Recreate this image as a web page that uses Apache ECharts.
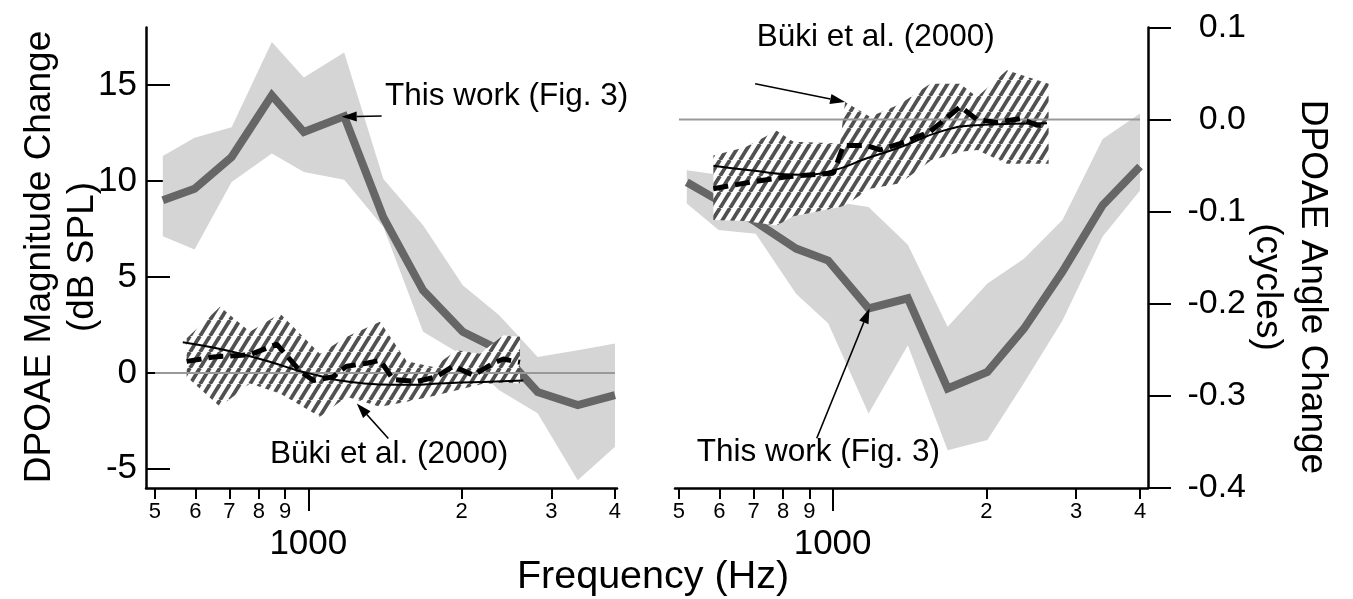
<!DOCTYPE html>
<html><head><meta charset="utf-8">
<script src="https://cdn.jsdelivr.net/npm/echarts@6/dist/echarts.min.js"></script>
<style>html,body{margin:0;padding:0;background:#fff}#c{width:1353px;height:599px}</style>
</head><body><div id="c"></div>
<script>
// ---------- DATA ----------
// "This work (Fig. 3)" frequencies (Hz)
const freqThisWork = [518, 598, 707, 848, 980, 1176, 1404, 1680, 2010, 2370, 2820, 3380, 4000];
// Magnitude change (dB SPL)
const magThisWork      = [9.0, 9.6, 11.25, 14.46, 12.55, 13.37, 8.1, 4.3, 2.14, 1.2, -1.0, -1.68, -1.16];
const magThisWorkUpper = [11.3, 12.26, 12.8, 17.24, 15.4, 16.7, 10.1, 7.7, 4.57, 3.0, 0.83, 1.18, 1.53];
const magThisWorkLower = [7.12, 6.43, 9.95, 11.43, 10.47, 10.07, 7.6, 2.14, 0.9, -0.9, -2.1, -5.6, -3.85];
// Angle change (cycles)
const angThisWork      = [-0.068, -0.088, -0.111, -0.140, -0.153, -0.205, -0.194, -0.292, -0.274, -0.227, -0.165, -0.093, -0.051];
const angThisWorkUpper = [-0.055, -0.060, -0.070, -0.080, -0.088, -0.095, -0.136, -0.225, -0.178, -0.151, -0.109, -0.021, 0.0065];
const angThisWorkLower = [-0.091, -0.120, -0.124, -0.189, -0.221, -0.319, -0.245, -0.359, -0.348, -0.286, -0.218, -0.127, -0.077];

// Büki et al. (2000) magnitude
const bukiMagFreq = [577, 651, 768, 867, 963, 1023, 1119, 1189, 1302, 1383, 1468, 1632, 1786, 1926, 2109, 2307, 2414, 2604];
const bukiMag     = [0.6, 0.83, 0.95, 1.5, 0.1, -0.4, -0.2, 0.35, 0.5, 0.66, -0.35, -0.45, -0.2, 0.35, -0.12, 0.5, 0.72, 0.55];
const bukiMagFitFreq = [567, 650, 734, 840, 949, 1050, 1154, 1383, 1600, 1814, 2200, 2642];
const bukiMagFit     = [1.6, 1.32, 1.0, 0.58, 0.14, -0.15, -0.4, -0.6, -0.62, -0.55, -0.47, -0.4];
const bukiMagBandFreq = [577, 671, 768, 880, 1054, 1189, 1383, 1560, 1760, 1956, 2173, 2414, 2604];
const bukiMagUpper    = [1.8, 3.44, 2.14, 3.1, 1.0, 1.88, 2.66, 0.6, 0.31, 1.18, 1.0, 1.96, 1.88];
const bukiMagLower    = [-0.2, -1.77, -0.55, -1.07, -2.29, -1.25, -1.77, -1.5, -1.2, -0.9, -0.6, -0.5, -0.55];

// Büki et al. (2000) angle
const bukiAngFreq = [584, 689, 813, 1004, 1050, 1167, 1239, 1356, 1553, 1778, 1918, 2099, 2331, 2514, 2630];
const bukiAng     = [-0.075, -0.068, -0.062, -0.058, -0.028, -0.028, -0.033, -0.026, -0.013, 0.014, 0.0, -0.003, 0.001, -0.006, -0.006];
const bukiAngFitFreq = [584, 689, 864, 1004, 1167, 1356, 1649, 1918, 2630];
const bukiAngFit     = [-0.05, -0.055, -0.060, -0.055, -0.042, -0.030, -0.012, -0.006, -0.004];
const bukiAngBandFreq = [584, 674, 777, 838, 1034, 1058, 1184, 1356, 1553, 1778, 1918, 2195, 2649];
const bukiAngUpper    = [-0.039, -0.030, -0.012, -0.024, -0.026, 0.019, 0.003, 0.017, 0.039, 0.039, 0.0245, 0.0535, 0.039];
const bukiAngLower    = [-0.109, -0.110, -0.115, -0.105, -0.095, -0.093, -0.075, -0.069, -0.045, -0.035, -0.033, -0.048, -0.048];

// zero reference lines
const zeroLineFreq = [500, 4000];
const zeroLineVal  = [0, 0];

// tick labels
const minorTicks      = [500, 600, 700, 800, 900, 2000, 3000, 4000];
const minorTickLabels = ['5', '6', '7', '8', '9', '2', '3', '4'];
const majorTicks      = [1000];
const majorTickLabels = ['1000'];
const magTicks = [-5, 0, 5, 10, 15];

// ---------- CHART ----------
const FONT = 'Liberation Sans, Arial, Helvetica, sans-serif';
const chart = echarts.init(document.getElementById('c'), null, {renderer: 'canvas'});

function zip(a, b) { return a.map((v, i) => [v, b[i]]); }
function hatchPattern() {
  const w = 10, h = 16;
  const c = document.createElement('canvas'); c.width = w; c.height = h;
  const g = c.getContext('2d');
  g.fillStyle = '#fff'; g.fillRect(0, 0, w, h);
  g.strokeStyle = '#505050'; g.lineWidth = 3.8;
  for (let k = -1; k <= 1; k++) { g.beginPath(); g.moveTo(k * w, h); g.lineTo(k * w + w, 0); g.stroke(); }
  return c;
}
const HATCH = {image: hatchPattern(), repeat: 'repeat'};

function lookup(vals, labels) {
  return v => { const i = vals.findIndex(t => Math.abs(t - v) < 1e-6 * t); return i >= 0 ? labels[i] : ''; };
}
function xAxes(grid, min, max) {
  return [
    {type: 'log', logBase: 10, gridIndex: grid, min, max, position: 'bottom',
     axisLine: {show: true, onZero: false, lineStyle: {color: '#000', width: 2.5}},
     axisTick: {show: true, customValues: minorTicks, length: 11, lineStyle: {color: '#000', width: 2}},
     axisLabel: {show: true, customValues: minorTicks, formatter: lookup(minorTicks, minorTickLabels),
                 fontSize: 22, fontFamily: FONT, color: '#000', margin: 13},
     splitLine: {show: false}, minorTick: {show: false}},
    {type: 'log', logBase: 10, gridIndex: grid, min, max, position: 'bottom',
     axisLine: {show: false, onZero: false},
     axisTick: {show: true, customValues: majorTicks, length: 23, lineStyle: {color: '#000', width: 2}},
     axisLabel: {show: true, customValues: majorTicks, formatter: lookup(majorTicks, majorTickLabels),
                 fontSize: 35, fontFamily: FONT, color: '#000', margin: 39},
     splitLine: {show: false}, minorTick: {show: false}}
  ];
}
function band(freq, up, lo, fill, xi, yi, z) {
  return {type: 'custom', xAxisIndex: xi, yAxisIndex: yi, z, silent: true, clip: false,
    data: [[freq[0], up[0]]],
    renderItem(params, api) {
      const pts = [];
      for (let i = 0; i < freq.length; i++) pts.push(api.coord([freq[i], up[i]]));
      for (let i = freq.length - 1; i >= 0; i--) pts.push(api.coord([freq[i], lo[i]]));
      return {type: 'polygon', shape: {points: pts}, style: {fill: fill, stroke: null, lineWidth: 0}};
    }};
}
function line(freq, vals, xi, yi, z, style, smooth) {
  return {type: 'line', xAxisIndex: xi, yAxisIndex: yi, z, silent: true, symbol: 'none', smooth: !!smooth,
    data: zip(freq, vals), lineStyle: style, animation: false};
}

const option = {
  animation: false,
  backgroundColor: '#fff',
  grid: [
    {left: 146, top: 27.5, width: 471, height: 460.5},
    {left: 675, top: 27.5, width: 473, height: 460.5}
  ],
  xAxis: [].concat(xAxes(0, 480.1, 4036.6), xAxes(1, 491.2, 4147)),
  yAxis: [
    {type: 'value', gridIndex: 0, min: -6, max: 18, position: 'left',
     axisLine: {show: true, onZero: false, lineStyle: {color: '#000', width: 2.5}},
     axisTick: {show: true, inside: true, customValues: magTicks, length: 24, lineStyle: {color: '#000', width: 2}},
     axisLabel: {show: true, customValues: magTicks, fontSize: 35, fontFamily: FONT, color: '#000', margin: 9},
     splitLine: {show: false}},
    {type: 'value', gridIndex: 1, min: -0.4, max: 0.1, interval: 0.1, position: 'right',
     axisLine: {show: true, onZero: false, lineStyle: {color: '#000', width: 2.5}},
     axisTick: {show: true, inside: false, length: 23, lineStyle: {color: '#000', width: 2}},
     axisLabel: {show: true, align: 'right', margin: 98, fontSize: 34, fontFamily: FONT, color: '#000',
                 formatter: v => (Math.abs(v) < 1e-9 ? 0 : v).toFixed(1)},
     splitLine: {show: false}}
  ],
  series: [
    // left panel
    band(freqThisWork, magThisWorkUpper, magThisWorkLower, '#d5d5d5', 0, 0, 1),
    line(freqThisWork, magThisWork, 0, 0, 2, {color: '#666', width: 8, join: 'miter'}),
    band(bukiMagBandFreq, bukiMagUpper, bukiMagLower, HATCH, 0, 0, 3),
    line(zeroLineFreq, zeroLineVal, 0, 0, 4, {color: '#999', width: 2}),
    line(bukiMagFreq, bukiMag, 0, 0, 5, {color: '#000', width: 5, type: [15, 7]}),
    line(bukiMagFitFreq, bukiMagFit, 0, 0, 6, {color: '#000', width: 2}, 0.4),
    // right panel
    band(freqThisWork, angThisWorkUpper, angThisWorkLower, '#d5d5d5', 2, 1, 1),
    line(freqThisWork, angThisWork, 2, 1, 2, {color: '#666', width: 8, join: 'miter'}),
    band(bukiAngBandFreq, bukiAngUpper, bukiAngLower, HATCH, 2, 1, 3),
    line(zeroLineFreq, zeroLineVal, 2, 1, 4, {color: '#999', width: 2}),
    line(bukiAngFreq, bukiAng, 2, 1, 5, {color: '#000', width: 5, type: [15, 7]}),
    line(bukiAngFitFreq, bukiAngFit, 2, 1, 6, {color: '#000', width: 2}, 0.4)
  ]
};
chart.setOption(option);

// ---------- annotations (anchored in data coordinates) ----------
const annotations = [
  {series: 1, text: 'This work (Fig. 3)', at: [1414, 14.41], tail: [1393, 13.39], head: [1163, 13.35]},
  {series: 1, text: 'Büki et al. (2000)', at: [841, -4.23], tail: [1436, -3.42], head: [1245, -1.59]},
  {series: 7, text: 'Büki et al. (2000)', at: [710, 0.0893], tail: [705, 0.039], head: [1058, 0.0191]},
  {series: 7, text: 'This work (Fig. 3)', at: [542, -0.361], tail: [931, -0.346], head: [1181, -0.205]}
];
const graphics = [];
annotations.forEach(a => {
  const p = chart.convertToPixel({seriesIndex: a.series}, a.at);
  const t = chart.convertToPixel({seriesIndex: a.series}, a.tail);
  const h = chart.convertToPixel({seriesIndex: a.series}, a.head);
  graphics.push({type: 'text', x: p[0], y: p[1], z: 20,
    style: {text: a.text, fill: '#000', font: '31.5px ' + FONT, textAlign: 'left', textVerticalAlign: 'middle'}});
  const dx = h[0] - t[0], dy = h[1] - t[1], L = Math.hypot(dx, dy), ux = dx / L, uy = dy / L;
  const hl = 15, hw = 5;
  const bx = h[0] - ux * hl, by = h[1] - uy * hl;
  graphics.push({type: 'line', z: 20, shape: {x1: t[0], y1: t[1], x2: bx, y2: by}, style: {stroke: '#000', lineWidth: 1.6}});
  graphics.push({type: 'polygon', z: 20, shape: {points: [[h[0], h[1]], [bx - uy * hw, by + ux * hw], [bx + uy * hw, by - ux * hw]]},
    style: {fill: '#000'}});
});
// axis titles
graphics.push({type: 'text', x: 61, y: 257, rotation: Math.PI / 2, z: 20,
  style: {text: 'DPOAE Magnitude Change\n(dB SPL)', font: '37px ' + FONT, fill: '#000', textAlign: 'center', textVerticalAlign: 'middle', lineHeight: 43}});
graphics.push({type: 'text', x: 1290, y: 287, rotation: -Math.PI / 2, z: 20,
  style: {text: 'DPOAE Angle Change\n(cycles)', font: '37px ' + FONT, fill: '#000', textAlign: 'center', textVerticalAlign: 'middle', lineHeight: 45}});
graphics.push({type: 'text', x: 653, y: 577, z: 20,
  style: {text: 'Frequency (Hz)', font: '39.5px ' + FONT, fill: '#000', textAlign: 'center', textVerticalAlign: 'middle'}});
chart.setOption({graphic: graphics});
</script>
</body></html>
